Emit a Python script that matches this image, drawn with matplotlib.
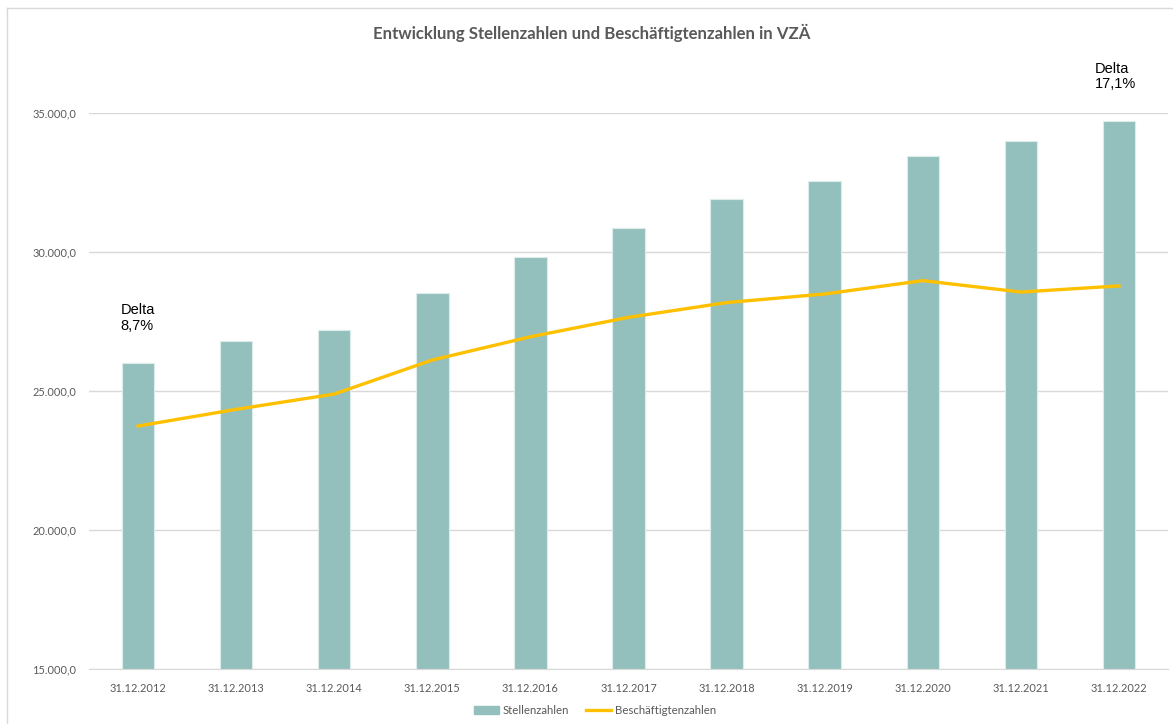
import matplotlib
matplotlib.use('Agg')
import matplotlib.pyplot as plt
from matplotlib.lines import Line2D
import numpy as np

# Data.
years = ['31.12.2012', '31.12.2013', '31.12.2014', '31.12.2015', '31.12.2016',
         '31.12.2017', '31.12.2018', '31.12.2019', '31.12.2020', '31.12.2021',
         '31.12.2022']
stellen = [26000, 26810, 27180, 28525, 29820, 30850, 31920, 32540, 33440,
           33990, 34710]
beschaeftigte = [23740, 24340, 24890, 26115, 26950, 27650, 28180, 28490,
                 28970, 28560, 28780]
yticks = [15000, 20000, 25000, 30000, 35000]
ytick_labels = ['15.000,0', '20.000,0', '25.000,0', '30.000,0', '35.000,0']

BAR = '#93c0bc'
LINE = '#ffc000'
GREY = '#595959'

plt.rcParams['font.family'] = ['Lato', 'DejaVu Sans']

fig = plt.figure(figsize=(11.73, 7.24), dpi=100)
ax = fig.add_axes([89 / 1173, 1 - 669 / 724, (1168 - 89) / 1173,
                   (669 - 113) / 724])

x = np.arange(len(years))
ax.bar(x, stellen, width=0.33, color=BAR, edgecolor='#dceceb', linewidth=0.8,
       zorder=2, label='Stellenzahlen')
ax.plot(x, beschaeftigte, color=LINE, linewidth=2.4, zorder=3,
        label='Beschäftigtenzahlen')

ax.set_xlim(-0.5, len(years) - 0.5)
ax.set_ylim(15000, 35000)
ax.set_yticks(yticks)
ax.set_yticklabels(ytick_labels)
ax.set_xticks(x)
ax.set_xticklabels(years)
ax.tick_params(axis='both', length=0, labelsize=7.9, colors=GREY)
ax.tick_params(axis='y', pad=9)
ax.tick_params(axis='x', pad=10)
ax.grid(axis='y', color='#d9d9d9', linewidth=1, zorder=0)
for side in ['top', 'right', 'left']:
    ax.spines[side].set_visible(False)
ax.spines['bottom'].set_color('#d9d9d9')

# Delta annotations (Arial-like text boxes)
ax.text(-0.18, 28165, 'Delta\n8,7%', ha='left', va='top', fontsize=10.5,
        family='Liberation Sans', color='black', linespacing=1.15,
        clip_on=False)
ax.text(len(years) - 1 - 0.25, 36845, 'Delta\n17,1%', ha='left', va='top',
        fontsize=10.5, family='Liberation Sans', color='black',
        linespacing=1.15, clip_on=False)

fig.text(592 / 1173, 1 - 33 / 724,
         'Entwicklung Stellenzahlen und Beschäftigtenzahlen in VZÄ',
         ha='center', va='center', fontsize=12.1, fontweight='bold',
         color=GREY)

handles = [plt.Rectangle((0, 0), 1, 1, color=BAR),
           Line2D([0], [0], color=LINE, linewidth=2.4)]
fig.legend(handles, ['Stellenzahlen', 'Beschäftigtenzahlen'],
           loc='center', bbox_to_anchor=(595 / 1173, 1 - 710 / 724),
           ncol=2, frameon=False, fontsize=8.2, labelcolor=GREY,
           handlelength=2.2, handletextpad=0.3, columnspacing=1.5)

# chart border
fig.add_artist(Line2D([7 / 1173, 7 / 1173], [0, 1 - 8 / 724],
                      color='#d9d9d9', linewidth=1, transform=fig.transFigure))
fig.add_artist(Line2D([7 / 1173, 1], [1 - 8 / 724, 1 - 8 / 724],
                      color='#d9d9d9', linewidth=1, transform=fig.transFigure))

fig.savefig('out.png', dpi=100)
